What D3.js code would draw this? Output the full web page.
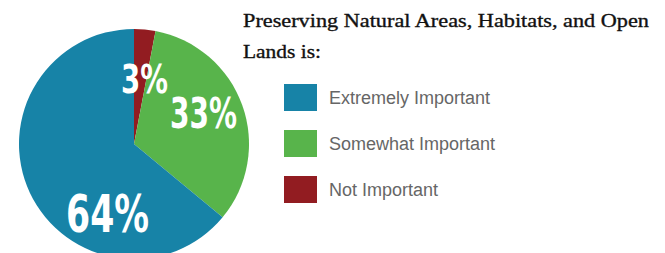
<!DOCTYPE html>
<html><head><meta charset="utf-8">
<script src="https://cdn.jsdelivr.net/npm/d3@7"></script>
<style>html,body{margin:0;padding:0;background:#fff;overflow:hidden}</style>
</head><body>
<svg id="c" width="665" height="253"></svg>
<script>
const categories = ["Extremely Important", "Somewhat Important", "Not Important"];
const values = [64, 33, 3];
const colors = ["#1783a7", "#58b44b", "#921c21"];
const labels = ["64%", "33%", "3%"];
const titleLines = ["Preserving Natural Areas, Habitats, and Open", "Lands is:"];

const svg = d3.select("#c");
const cx = 134, cy = 144, r = 115;

// pie drawn clockwise from 12 o'clock: Not, Somewhat, Extremely
const order = [2, 1, 0];
const pie = d3.pie().sort(null).value(i => values[i]);
const arcs = pie(order);
const arc = d3.arc().innerRadius(0).outerRadius(r);
const g = svg.append("g").attr("transform", `translate(${cx},${cy})`);
g.selectAll("path").data(arcs).enter().append("path")
  .attr("d", arc).attr("fill", d => colors[d.data]);

// labels (hand placed relative to pie centre, as in original)
const labelPos = {0: [-68, 88, 52, 83], 1: [36, -16, 42, 67], 2: [-13, -51, 39, 47]};
[0,1,2].forEach(i => {
  const [dx, dy, fs, w] = labelPos[i];
  g.append("text").text(labels[i])
    .attr("x", dx).attr("y", dy)
    .attr("font-family", "'Liberation Sans Narrow', 'DejaVu Sans Condensed', sans-serif")
    .attr("font-weight", "bold").attr("font-size", fs)
    .attr("textLength", w).attr("lengthAdjust", "spacingAndGlyphs")
    .attr("fill", "#fff");
});

// title
[0, 1].forEach(i => {
  svg.append("text").text(titleLines[i]).attr("x", 243).attr("y", i ? 58 : 27)
    .attr("font-family", "'Liberation Serif', 'DejaVu Serif', serif")
    .attr("font-size", 19).attr("fill", "#111")
    .attr("stroke", "#111").attr("stroke-width", 0.35)
    .attr("textLength", i ? 78 : 406).attr("lengthAdjust", "spacingAndGlyphs");
});

// legend
const ly = d3.scaleLinear().domain([0, 1]).range([84, 130]);
const leg = svg.append("g");
categories.forEach((c, i) => {
  leg.append("rect").attr("x", 284).attr("y", ly(i)).attr("width", 33).attr("height", 27)
    .attr("fill", colors[i]);
  leg.append("text").text(c).attr("x", 329).attr("y", ly(i) + 20)
    .attr("font-family", "'Liberation Sans', Arial, sans-serif")
    .attr("font-size", 18).attr("fill", "#666");
});
</script>
</body></html>
